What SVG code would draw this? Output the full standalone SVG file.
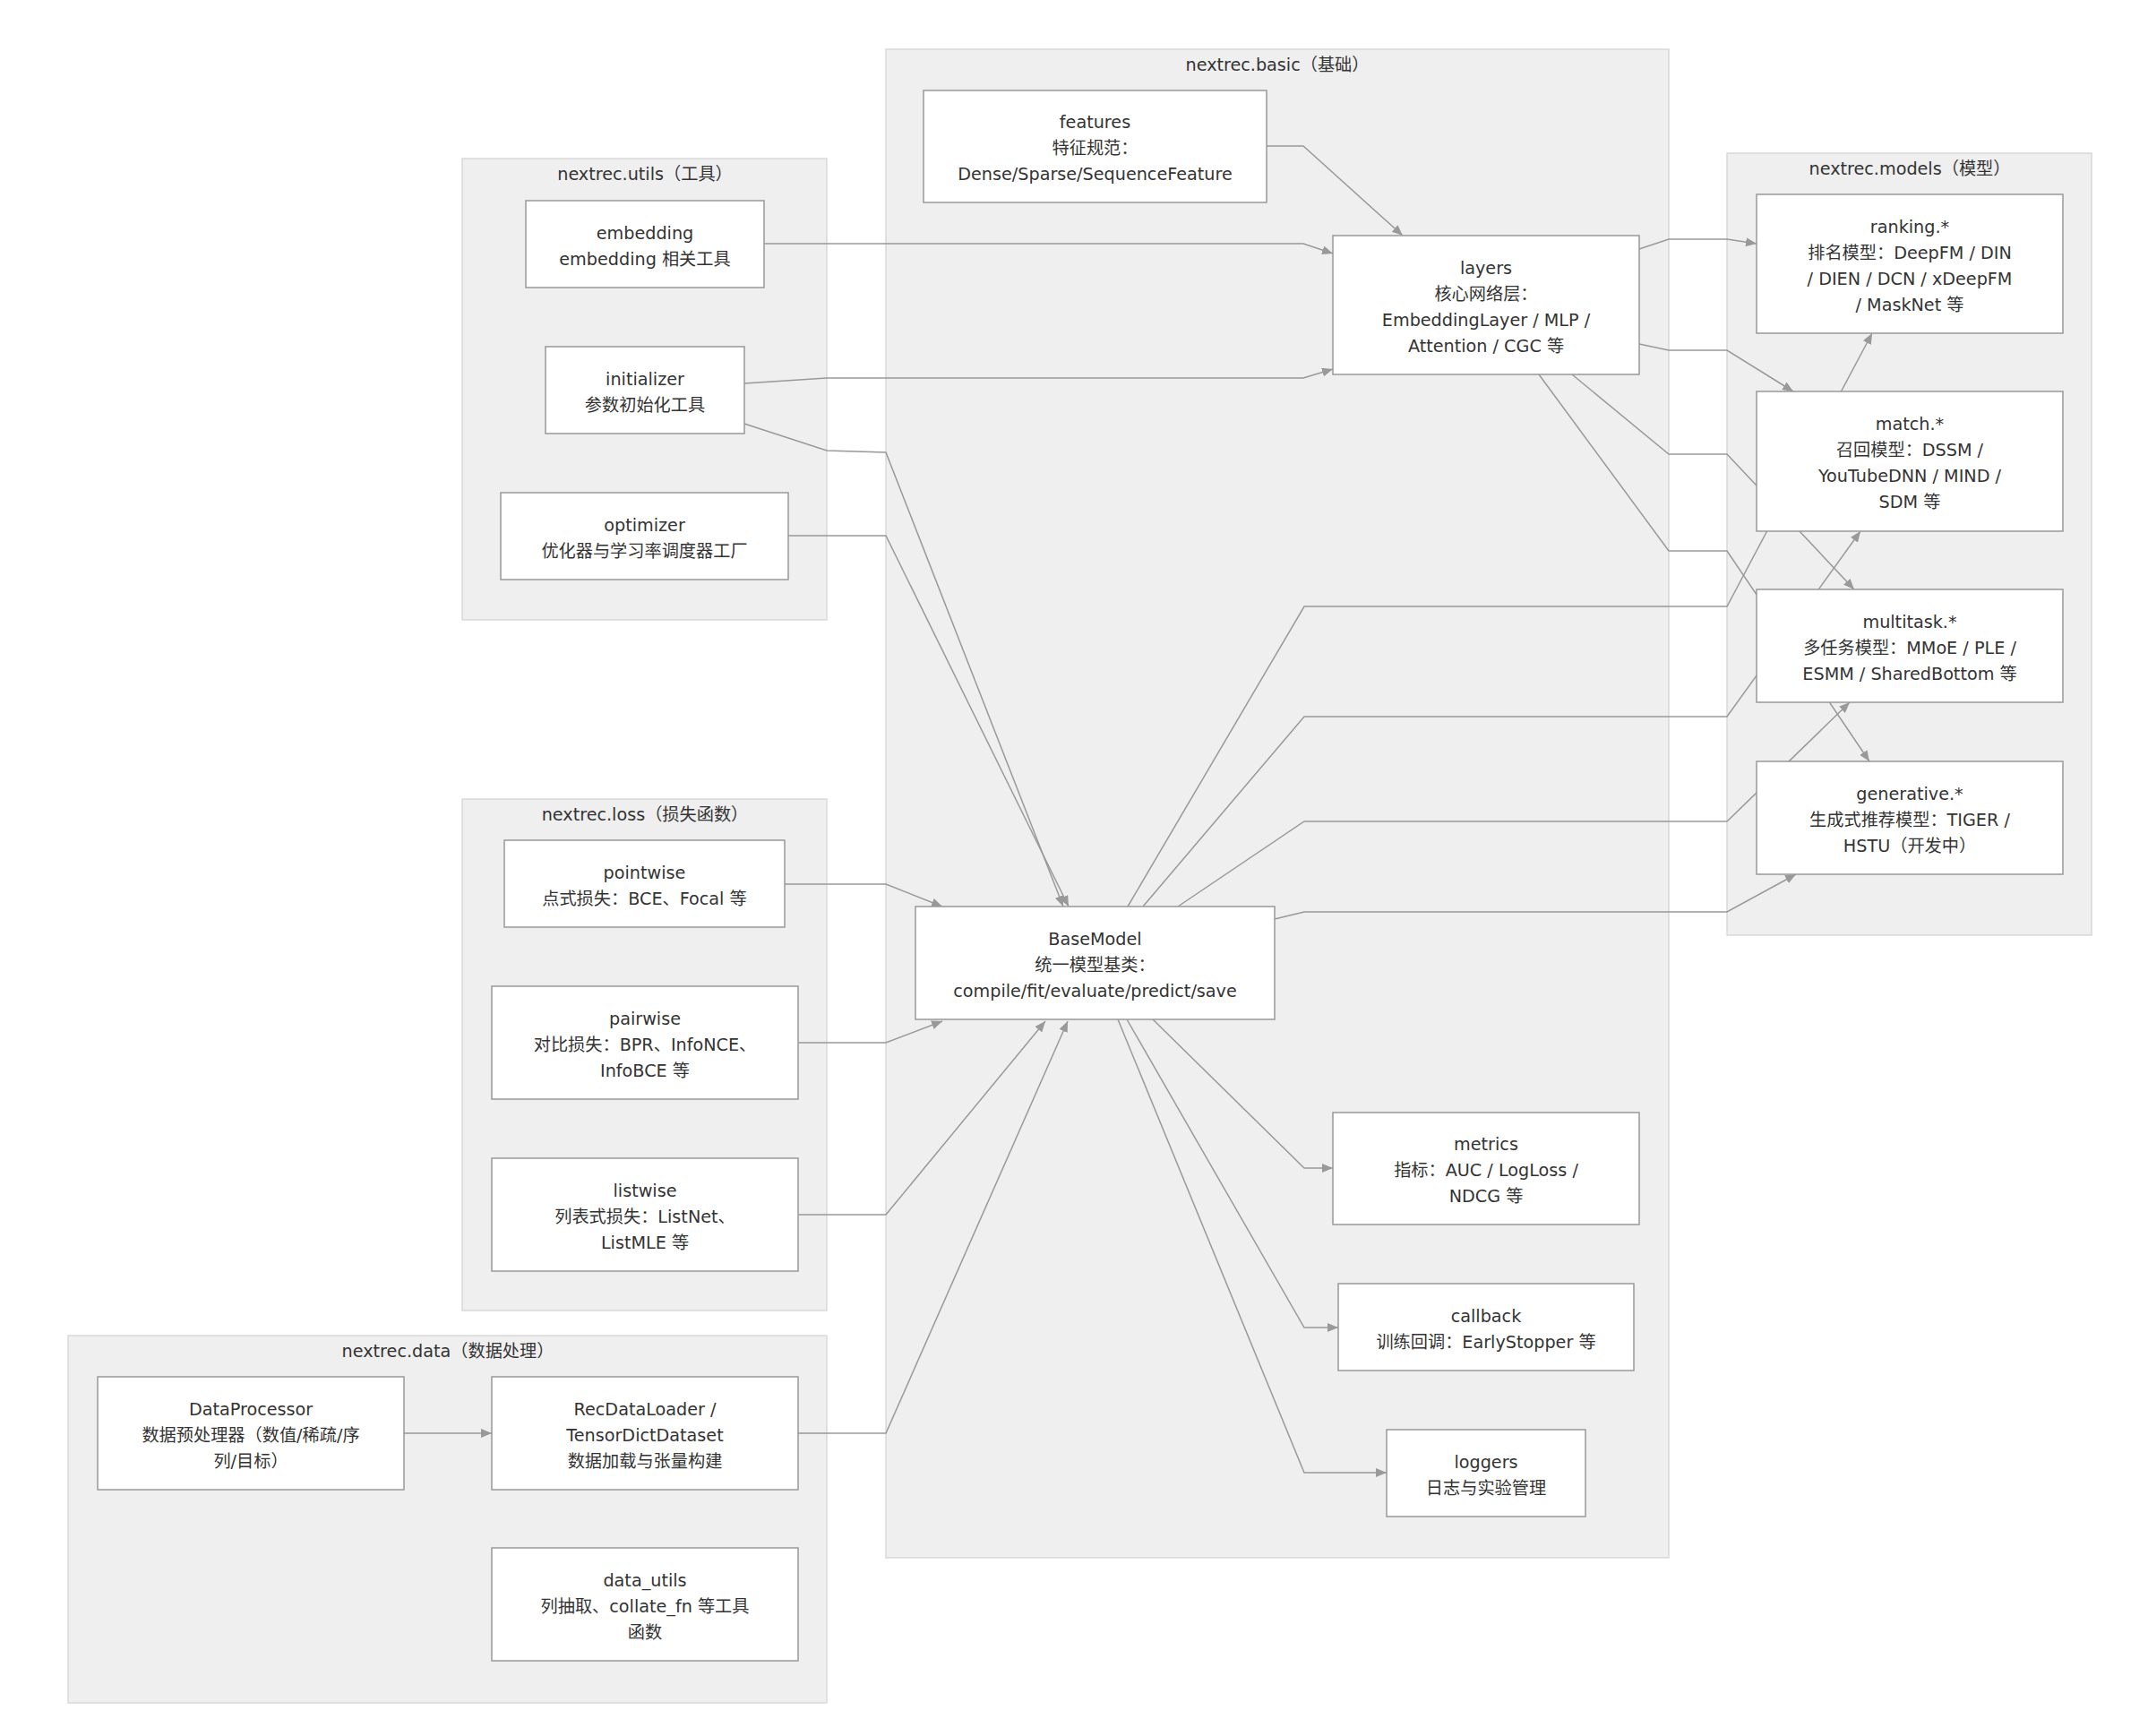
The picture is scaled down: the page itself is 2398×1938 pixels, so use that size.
<svg xmlns="http://www.w3.org/2000/svg" width="2398" height="1938" viewBox="0 0 2398 1938">
<style>
text{font-family:"DejaVu Sans","Noto Sans CJK SC",sans-serif;font-size:19.2px;fill:#333;text-anchor:middle;dominant-baseline:central}
.cluster rect{fill:#efefef;stroke:#d9d9d9;stroke-width:1.5}
.node rect{fill:#fff;stroke:#999;stroke-width:1.5}
.edge{fill:none;stroke:#999;stroke-width:1.5;marker-end:url(#arrow)}
</style>
<defs>
<marker id="arrow" markerUnits="userSpaceOnUse" markerWidth="12" markerHeight="10" refX="12" refY="5" orient="auto">
<path d="M0,0 L12,5 L0,10 z" fill="#999"/>
</marker>
</defs>
<rect width="2398" height="1938" fill="#fff"/>
<g id="clusters">
<g id="cluster-basic" class="cluster"><rect x="989" y="55" width="874" height="1684"/><text x="1426" y="72">nextrec.basic（基础）</text></g>
<g id="cluster-utils" class="cluster"><rect x="516" y="177" width="407" height="515"/><text x="720" y="194">nextrec.utils（工具）</text></g>
<g id="cluster-loss" class="cluster"><rect x="516" y="892" width="407" height="571"/><text x="720" y="909">nextrec.loss（损失函数）</text></g>
<g id="cluster-data" class="cluster"><rect x="76" y="1491" width="847" height="410"/><text x="500" y="1508">nextrec.data（数据处理）</text></g>
<g id="cluster-models" class="cluster"><rect x="1928" y="171" width="407" height="873"/><text x="2132" y="188">nextrec.models（模型）</text></g>
</g>
<g id="edges">
<polyline class="edge" points="1414,163 1455,163 1566,263"/>
<polyline class="edge" points="853,272 1455,272 1488,283"/>
<polyline class="edge" points="831,428 923,422 1455,422 1488,412"/>
<polyline class="edge" points="831,473 923,503 989,505 1187,1012"/>
<polyline class="edge" points="880,598 989,598 1193,1012"/>
<polyline class="edge" points="876,987 989,987 1052,1012"/>
<polyline class="edge" points="891,1164 989,1164 1052,1140"/>
<polyline class="edge" points="891,1356 989,1356 1167,1140"/>
<polyline class="edge" points="451,1600 549,1600"/>
<polyline class="edge" points="891,1600 989,1600 1192,1140"/>
<polyline class="edge" points="1830,278 1863,267 1928,267 1961,272"/>
<polyline class="edge" points="1830,384 1863,391 1928,391 2002,437"/>
<polyline class="edge" points="1755,418 1863,507 1928,507 2070,658"/>
<polyline class="edge" points="1718,418 1863,615 1928,615 2087,850"/>
<polyline class="edge" points="1259,1012 1456,677 1928,677 2090,372"/>
<polyline class="edge" points="1276,1012 1456,800 1928,800 2077,593"/>
<polyline class="edge" points="1315,1012 1456,917 1928,917 2065,784"/>
<polyline class="edge" points="1423,1026 1456,1018 1928,1018 2005,976"/>
<polyline class="edge" points="1287,1138 1456,1304 1488,1304"/>
<polyline class="edge" points="1258,1138 1456,1482 1494,1482"/>
<polyline class="edge" points="1248,1138 1456,1644 1548,1644"/>
</g>
<g id="nodes">
<g id="features" class="node"><rect x="1031" y="101" width="383" height="125"/><text x="1222.5" y="136.5">features</text><text x="1222.5" y="165.5">特征规范：</text><text x="1222.5" y="194.5">Dense/Sparse/SequenceFeature</text></g>
<g id="layers" class="node"><rect x="1488" y="263" width="342" height="155"/><text x="1659" y="299">layers</text><text x="1659" y="328">核心网络层：</text><text x="1659" y="357">EmbeddingLayer / MLP /</text><text x="1659" y="386">Attention / CGC 等</text></g>
<g id="BaseModel" class="node"><rect x="1022" y="1012" width="401" height="126"/><text x="1222.5" y="1048">BaseModel</text><text x="1222.5" y="1077">统一模型基类：</text><text x="1222.5" y="1106">compile/fit/evaluate/predict/save</text></g>
<g id="metrics" class="node"><rect x="1488" y="1242" width="342" height="125"/><text x="1659" y="1277.5">metrics</text><text x="1659" y="1306.5">指标：AUC / LogLoss /</text><text x="1659" y="1335.5">NDCG 等</text></g>
<g id="callback" class="node"><rect x="1494" y="1433" width="330" height="97"/><text x="1659" y="1469">callback</text><text x="1659" y="1498">训练回调：EarlyStopper 等</text></g>
<g id="loggers" class="node"><rect x="1548" y="1596" width="222" height="97"/><text x="1659" y="1632">loggers</text><text x="1659" y="1661">日志与实验管理</text></g>
<g id="embedding" class="node"><rect x="587" y="224" width="266" height="97"/><text x="720" y="260">embedding</text><text x="720" y="289">embedding 相关工具</text></g>
<g id="initializer" class="node"><rect x="609" y="387" width="222" height="97"/><text x="720" y="423">initializer</text><text x="720" y="452">参数初始化工具</text></g>
<g id="optimizer" class="node"><rect x="559" y="550" width="321" height="97"/><text x="719.5" y="586">optimizer</text><text x="719.5" y="615">优化器与学习率调度器工厂</text></g>
<g id="pointwise" class="node"><rect x="563" y="938" width="313" height="97"/><text x="719.5" y="974">pointwise</text><text x="719.5" y="1003">点式损失：BCE、Focal 等</text></g>
<g id="pairwise" class="node"><rect x="549" y="1101" width="342" height="126"/><text x="720" y="1137">pairwise</text><text x="720" y="1166">对比损失：BPR、InfoNCE、</text><text x="720" y="1195">InfoBCE 等</text></g>
<g id="listwise" class="node"><rect x="549" y="1293" width="342" height="126"/><text x="720" y="1329">listwise</text><text x="720" y="1358">列表式损失：ListNet、</text><text x="720" y="1387">ListMLE 等</text></g>
<g id="DataProcessor" class="node"><rect x="109" y="1537" width="342" height="126"/><text x="280" y="1573">DataProcessor</text><text x="280" y="1602">数据预处理器（数值/稀疏/序</text><text x="280" y="1631">列/目标）</text></g>
<g id="RecDataLoader" class="node"><rect x="549" y="1537" width="342" height="126"/><text x="720" y="1573">RecDataLoader /</text><text x="720" y="1602">TensorDictDataset</text><text x="720" y="1631">数据加载与张量构建</text></g>
<g id="data_utils" class="node"><rect x="549" y="1728" width="342" height="126"/><text x="720" y="1764">data_utils</text><text x="720" y="1793">列抽取、collate_fn 等工具</text><text x="720" y="1822">函数</text></g>
<g id="ranking" class="node"><rect x="1961" y="217" width="342" height="155"/><text x="2132" y="253">ranking.*</text><text x="2132" y="282">排名模型：DeepFM / DIN</text><text x="2132" y="311">/ DIEN / DCN / xDeepFM</text><text x="2132" y="340">/ MaskNet 等</text></g>
<g id="match" class="node"><rect x="1961" y="437" width="342" height="156"/><text x="2132" y="473.5">match.*</text><text x="2132" y="502.5">召回模型：DSSM /</text><text x="2132" y="531.5">YouTubeDNN / MIND /</text><text x="2132" y="560.5">SDM 等</text></g>
<g id="multitask" class="node"><rect x="1961" y="658" width="342" height="126"/><text x="2132" y="694">multitask.*</text><text x="2132" y="723">多任务模型：MMoE / PLE /</text><text x="2132" y="752">ESMM / SharedBottom 等</text></g>
<g id="generative" class="node"><rect x="1961" y="850" width="342" height="126"/><text x="2132" y="886">generative.*</text><text x="2132" y="915">生成式推荐模型：TIGER /</text><text x="2132" y="944">HSTU（开发中）</text></g>
</g>
</svg>
